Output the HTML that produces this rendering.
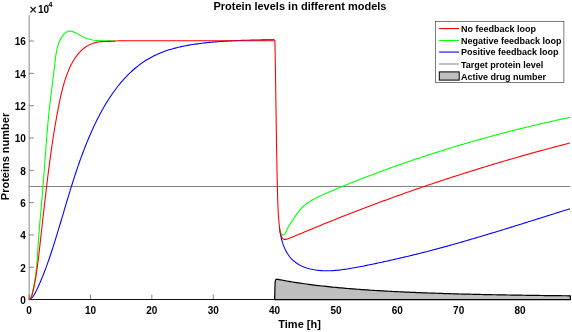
<!DOCTYPE html><html><head><meta charset="utf-8"><title>Protein levels in different models</title><style>html,body{margin:0;padding:0;background:#fff}svg{display:block}</style></head><body><svg width="572" height="332" viewBox="0 0 572 332">
<rect width="572" height="332" fill="#fff"/>
<g stroke="#262626" stroke-width="1" stroke-opacity="0.55" fill="none">
<path d="M29.15 15V299.60"/>
<path d="M29.15 299.60v-5"/>
<path d="M90.51 299.60v-5"/>
<path d="M151.87 299.60v-5"/>
<path d="M213.23 299.60v-5"/>
<path d="M274.59 299.60v-5"/>
<path d="M335.95 299.60v-5"/>
<path d="M397.31 299.60v-5"/>
<path d="M458.67 299.60v-5"/>
<path d="M520.03 299.60v-5"/>
<path d="M29.15 299.60h4.8"/>
<path d="M29.15 267.28h4.8"/>
<path d="M29.15 234.96h4.8"/>
<path d="M29.15 202.64h4.8"/>
<path d="M29.15 170.32h4.8"/>
<path d="M29.15 138.00h4.8"/>
<path d="M29.15 105.68h4.8"/>
<path d="M29.15 73.36h4.8"/>
<path d="M29.15 41.04h4.8"/>
</g>
<path d="M28.65 299.50H570.35" stroke="#111" stroke-width="1" fill="none"/>
<path d="M29.15 186.48H570.35" stroke="#808080" stroke-width="1" fill="none"/>
<path d="M274.75 299.60L274.90 288.00L275.20 281.60L275.60 280.00L276.10 279.30L276.86 279.15L278.83 279.54L280.80 279.91L282.77 280.28L284.74 280.64L286.71 280.98L288.68 281.32L290.65 281.65L292.62 281.98L294.59 282.29L296.56 282.60L298.53 282.90L300.50 283.19L302.47 283.48L304.44 283.76L306.41 284.03L308.38 284.29L310.35 284.55L312.31 284.81L314.28 285.05L316.25 285.30L318.22 285.53L320.19 285.76L322.16 285.99L324.13 286.21L326.10 286.42L328.07 286.63L330.04 286.84L332.01 287.04L333.98 287.23L335.95 287.42L337.92 287.61L339.89 287.79L341.86 287.97L343.83 288.15L345.80 288.32L347.77 288.48L349.74 288.65L351.71 288.81L353.68 288.96L355.65 289.12L357.62 289.27L359.59 289.41L361.56 289.56L363.53 289.70L365.50 289.83L367.47 289.97L369.44 290.10L371.41 290.23L373.38 290.35L375.35 290.48L377.31 290.60L379.28 290.72L381.25 290.83L383.22 290.94L385.19 291.06L387.16 291.16L389.13 291.27L391.10 291.37L393.07 291.48L395.04 291.58L397.01 291.67L398.98 291.77L400.95 291.87L402.92 291.96L404.89 292.05L406.86 292.14L408.83 292.22L410.80 292.31L412.77 292.39L414.74 292.47L416.71 292.55L418.68 292.63L420.65 292.71L422.62 292.78L424.59 292.86L426.56 292.93L428.53 293.00L430.50 293.07L432.47 293.14L434.44 293.21L436.41 293.27L438.38 293.34L440.35 293.40L442.31 293.47L444.28 293.53L446.25 293.59L448.22 293.65L450.19 293.70L452.16 293.76L454.13 293.82L456.10 293.87L458.07 293.92L460.04 293.98L462.01 294.03L463.98 294.08L465.95 294.13L467.92 294.18L469.89 294.22L471.86 294.27L473.83 294.32L475.80 294.36L477.77 294.41L479.74 294.45L481.71 294.49L483.68 294.54L485.65 294.58L487.62 294.62L489.59 294.66L491.56 294.70L493.53 294.74L495.50 294.77L497.47 294.81L499.44 294.85L501.41 294.88L503.38 294.92L505.35 294.95L507.31 294.99L509.28 295.02L511.25 295.05L513.22 295.09L515.19 295.12L517.16 295.15L519.13 295.18L521.10 295.21L523.07 295.24L525.04 295.27L527.01 295.30L528.98 295.32L530.95 295.35L532.92 295.38L534.89 295.41L536.86 295.43L538.83 295.46L540.80 295.48L542.77 295.51L544.74 295.53L546.71 295.55L548.68 295.58L550.65 295.60L552.62 295.62L554.59 295.65L556.56 295.67L558.53 295.69L560.50 295.71L562.47 295.73L564.44 295.75L566.41 295.77L568.38 295.79L570.35 295.81L570.35 299.60Z" fill="#bfbfbf" stroke="#000" stroke-width="1.2" stroke-linejoin="round"/>
<path d="M29.15 299.60L30.50 298.82L31.68 297.88L32.71 296.80L33.62 295.61L34.44 294.34L35.19 292.99L35.89 291.61L36.57 290.21L37.24 288.80L37.90 287.39L38.55 285.97L39.19 284.54L39.82 283.11L40.44 281.68L41.06 280.24L41.66 278.79L42.26 277.35L42.84 275.89L43.42 274.44L44.00 272.98L44.56 271.51L45.12 270.05L45.67 268.58L46.22 267.10L46.75 265.63L47.29 264.15L47.81 262.67L48.33 261.19L48.85 259.70L49.36 258.22L49.86 256.73L50.36 255.25L50.86 253.76L51.35 252.27L51.84 250.78L52.32 249.29L52.80 247.80L53.28 246.31L53.75 244.82L54.23 243.33L54.69 241.84L55.16 240.36L55.62 238.87L56.08 237.38L56.54 235.89L57.00 234.40L57.45 232.91L57.90 231.42L58.35 229.94L58.80 228.45L59.25 226.96L59.70 225.47L60.14 223.99L60.58 222.50L61.03 221.01L61.47 219.53L61.91 218.04L62.35 216.56L62.79 215.07L63.23 213.59L63.67 212.10L64.11 210.62L64.55 209.14L64.99 207.65L65.43 206.17L65.87 204.69L66.31 203.21L66.75 201.73L67.20 200.25L67.64 198.77L68.08 197.29L68.53 195.81L68.98 194.33L69.43 192.85L69.88 191.38L70.33 189.90L70.79 188.42L71.25 186.95L71.71 185.47L72.17 184.00L72.63 182.53L73.10 181.06L73.57 179.58L74.04 178.11L74.52 176.64L75.00 175.17L75.48 173.71L75.97 172.24L76.46 170.77L76.95 169.31L77.45 167.84L77.95 166.38L78.46 164.91L78.97 163.45L79.48 161.99L80.00 160.53L80.52 159.07L81.05 157.61L81.58 156.15L82.12 154.70L82.67 153.24L83.22 151.79L83.77 150.33L84.33 148.88L84.90 147.43L85.47 145.98L86.05 144.53L86.63 143.08L87.22 141.64L87.82 140.19L88.42 138.75L89.03 137.30L89.65 135.86L90.28 134.42L90.91 132.98L91.55 131.54L92.19 130.11L92.85 128.67L93.51 127.24L94.18 125.81L94.85 124.38L95.54 122.95L96.23 121.53L96.93 120.11L97.64 118.70L98.36 117.29L99.09 115.88L99.82 114.48L100.57 113.08L101.32 111.69L102.08 110.31L102.85 108.93L103.64 107.56L104.43 106.20L105.23 104.84L106.04 103.49L106.86 102.14L107.69 100.81L108.53 99.48L109.38 98.17L110.24 96.86L111.11 95.56L111.99 94.27L112.88 92.99L113.78 91.72L114.70 90.46L115.62 89.21L116.56 87.98L117.51 86.75L118.46 85.54L119.44 84.34L120.42 83.15L121.41 81.97L122.42 80.81L123.44 79.66L124.47 78.53L125.51 77.41L126.56 76.30L127.63 75.21L128.71 74.13L129.80 73.07L130.91 72.03L132.03 71.00L133.16 69.98L134.30 68.99L135.46 68.01L136.64 67.04L137.82 66.10L139.02 65.17L140.23 64.26L141.46 63.37L142.70 62.50L143.96 61.65L145.23 60.82L146.51 60.01L147.81 59.21L149.13 58.44L150.46 57.69L151.80 56.96L153.16 56.25L154.53 55.56L155.92 54.90L157.33 54.26L158.75 53.64L160.18 53.04L161.63 52.46L163.09 51.90L164.56 51.36L166.04 50.84L167.54 50.34L169.04 49.86L170.56 49.40L172.08 48.96L173.62 48.53L175.16 48.12L176.70 47.72L178.26 47.34L179.82 46.98L181.39 46.63L182.96 46.30L184.53 45.98L186.11 45.67L187.69 45.38L189.28 45.10L190.86 44.83L192.45 44.58L194.03 44.33L195.62 44.10L197.21 43.88L198.79 43.66L200.37 43.46L201.95 43.26L203.53 43.08L205.10 42.90L206.67 42.73L208.23 42.57L209.78 42.41L211.33 42.26L212.88 42.12L214.42 41.98L215.96 41.85L217.49 41.73L219.02 41.61L220.55 41.49L222.07 41.38L223.59 41.28L225.11 41.18L226.63 41.09L228.14 41.00L229.66 40.92L231.17 40.84L232.68 40.77L234.20 40.70L235.71 40.63L237.22 40.56L238.74 40.51L240.25 40.45L241.77 40.40L243.29 40.35L244.81 40.30L246.33 40.25L247.86 40.21L249.39 40.17L250.92 40.13L252.46 40.10L254.00 40.06L255.55 40.03L257.10 40.00L258.66 39.97L260.22 39.94L261.79 39.91L263.36 39.88L264.95 39.86L266.54 39.83L268.13 39.81L269.74 39.78L271.35 39.75L272.97 39.73L274.60 39.70M279.48 227.83L279.66 229.24L279.86 230.65L280.08 232.06L280.33 233.46L280.59 234.86L280.88 236.26L281.19 237.66L281.52 239.05L281.89 240.44L282.28 241.82L282.71 243.20L283.17 244.56L283.66 245.91L284.20 247.24L284.77 248.55L285.38 249.85L286.03 251.12L286.73 252.36L287.46 253.57L288.25 254.75L289.08 255.89L289.95 256.99L290.86 258.06L291.82 259.08L292.81 260.07L293.84 261.01L294.92 261.90L296.03 262.74L297.18 263.54L298.36 264.28L299.58 264.97L300.82 265.62L302.10 266.22L303.40 266.77L304.72 267.28L306.06 267.75L307.41 268.18L308.78 268.58L310.16 268.93L311.55 269.25L312.94 269.54L314.34 269.79L315.75 270.02L317.16 270.21L318.57 270.37L319.99 270.50L321.42 270.61L322.84 270.69L324.27 270.74L325.71 270.77L327.14 270.78L328.58 270.76L330.02 270.72L331.46 270.67L332.90 270.59L334.34 270.49L335.78 270.38L337.22 270.25L338.66 270.10L340.10 269.94L341.54 269.77L342.97 269.58L344.40 269.38L345.83 269.17L347.25 268.96L348.68 268.73L350.09 268.50L351.50 268.26L352.91 268.01L354.31 267.76L355.71 267.51L357.10 267.25L358.49 266.99L359.87 266.72L361.26 266.46L362.64 266.19L364.02 265.91L365.40 265.64L366.77 265.36L368.15 265.08L369.53 264.79L370.91 264.51L372.30 264.22L373.68 263.93L375.07 263.64L376.45 263.35L377.84 263.06L379.23 262.77L380.62 262.47L382.01 262.17L383.40 261.87L384.79 261.57L386.18 261.26L387.57 260.96L388.97 260.65L390.36 260.34L391.75 260.03L393.15 259.72L394.54 259.40L395.93 259.09L397.33 258.77L398.72 258.45L400.11 258.13L401.51 257.80L402.90 257.48L404.29 257.15L405.68 256.82L407.07 256.49L408.46 256.15L409.85 255.82L411.24 255.48L412.63 255.14L414.01 254.80L415.40 254.46L416.79 254.11L418.17 253.77L419.56 253.42L420.94 253.07L422.33 252.72L423.71 252.36L425.09 252.01L426.47 251.65L427.86 251.29L429.24 250.93L430.62 250.57L432.00 250.21L433.38 249.85L434.76 249.48L436.13 249.11L437.51 248.74L438.89 248.37L440.27 248.00L441.64 247.63L443.02 247.25L444.40 246.88L445.77 246.50L447.15 246.12L448.52 245.74L449.89 245.36L451.27 244.98L452.64 244.59L454.01 244.21L455.39 243.82L456.76 243.43L458.13 243.04L459.50 242.65L460.87 242.26L462.24 241.87L463.61 241.48L464.98 241.08L466.35 240.68L467.72 240.29L469.09 239.89L470.46 239.49L471.83 239.09L473.19 238.69L474.56 238.29L475.93 237.88L477.29 237.48L478.66 237.07L480.03 236.67L481.39 236.26L482.76 235.85L484.12 235.45L485.49 235.04L486.85 234.63L488.22 234.21L489.58 233.80L490.95 233.39L492.31 232.98L493.68 232.56L495.04 232.15L496.40 231.73L497.77 231.32L499.13 230.90L500.49 230.48L501.85 230.06L503.22 229.65L504.58 229.23L505.94 228.81L507.30 228.39L508.66 227.97L510.03 227.54L511.39 227.12L512.75 226.70L514.11 226.28L515.47 225.85L516.83 225.43L518.19 225.01L519.55 224.58L520.91 224.16L522.27 223.73L523.64 223.31L525.00 222.88L526.36 222.46L527.72 222.03L529.08 221.60L530.44 221.18L531.80 220.75L533.16 220.32L534.52 219.90L535.88 219.47L537.24 219.04L538.60 218.62L539.96 218.19L541.32 217.76L542.68 217.33L544.04 216.91L545.40 216.48L546.76 216.05L548.12 215.62L549.48 215.20L550.84 214.77L552.20 214.34L553.56 213.91L554.92 213.49L556.29 213.06L557.65 212.63L559.01 212.21L560.37 211.78L561.73 211.35L563.09 210.93L564.45 210.50L565.81 210.07L567.18 209.65L568.54 209.22L569.90 208.80" fill="none" stroke="#0000ff" stroke-width="1.08" stroke-linejoin="miter" stroke-miterlimit="3"/>
<path d="M29.15 299.60L30.06 298.76L30.74 297.78L31.25 296.68L31.64 295.50L31.96 294.28L32.24 293.05L32.53 291.82L32.80 290.59L33.07 289.36L33.33 288.13L33.58 286.90L33.82 285.67L34.06 284.45L34.29 283.22L34.51 281.99L34.72 280.76L34.92 279.54L35.12 278.31L35.30 277.08L35.48 275.84L35.65 274.61L35.81 273.37L35.96 272.14L36.11 270.90L36.24 269.66L36.38 268.42L36.50 267.18L36.62 265.94L36.73 264.69L36.84 263.45L36.95 262.20L37.05 260.95L37.14 259.71L37.24 258.46L37.33 257.21L37.41 255.96L37.50 254.71L37.58 253.47L37.67 252.22L37.75 250.97L37.83 249.72L37.91 248.47L37.99 247.22L38.07 245.97L38.16 244.72L38.24 243.47L38.33 242.22L38.42 240.98L38.51 239.73L38.60 238.48L38.70 237.24L38.79 235.99L38.89 234.74L38.98 233.50L39.08 232.25L39.18 231.01L39.28 229.76L39.38 228.52L39.48 227.27L39.59 226.03L39.69 224.78L39.79 223.54L39.90 222.30L40.00 221.05L40.11 219.81L40.22 218.56L40.33 217.32L40.43 216.08L40.54 214.83L40.65 213.59L40.76 212.35L40.87 211.10L40.98 209.86L41.09 208.62L41.19 207.38L41.30 206.13L41.41 204.89L41.52 203.65L41.63 202.40L41.74 201.16L41.85 199.92L41.96 198.67L42.06 197.43L42.17 196.19L42.28 194.94L42.38 193.70L42.49 192.45L42.59 191.21L42.70 189.97L42.80 188.72L42.90 187.48L43.00 186.23L43.11 184.99L43.21 183.74L43.30 182.50L43.40 181.25L43.50 180.00L43.60 178.76L43.69 177.51L43.79 176.26L43.88 175.02L43.98 173.77L44.07 172.52L44.17 171.28L44.26 170.03L44.35 168.78L44.44 167.54L44.54 166.29L44.63 165.04L44.72 163.79L44.81 162.55L44.91 161.30L45.00 160.05L45.09 158.80L45.18 157.56L45.27 156.31L45.37 155.06L45.46 153.81L45.55 152.57L45.65 151.32L45.74 150.07L45.83 148.82L45.93 147.58L46.02 146.33L46.12 145.08L46.22 143.84L46.31 142.59L46.41 141.34L46.51 140.10L46.61 138.85L46.71 137.60L46.81 136.36L46.91 135.11L47.01 133.87L47.12 132.62L47.22 131.37L47.33 130.13L47.43 128.88L47.54 127.64L47.65 126.39L47.76 125.15L47.88 123.91L47.99 122.66L48.10 121.42L48.22 120.18L48.34 118.93L48.46 117.69L48.58 116.45L48.70 115.21L48.83 113.96L48.95 112.72L49.08 111.48L49.21 110.24L49.35 109.00L49.48 107.76L49.62 106.52L49.75 105.28L49.89 104.04L50.04 102.80L50.18 101.57L50.33 100.33L50.47 99.09L50.62 97.85L50.77 96.62L50.92 95.38L51.08 94.14L51.23 92.91L51.39 91.67L51.54 90.43L51.70 89.20L51.85 87.96L52.01 86.72L52.17 85.48L52.33 84.25L52.49 83.01L52.64 81.77L52.80 80.53L52.96 79.29L53.11 78.05L53.27 76.81L53.43 75.57L53.58 74.33L53.74 73.09L53.89 71.85L54.04 70.60L54.19 69.36L54.34 68.12L54.49 66.87L54.63 65.62L54.78 64.38L54.92 63.13L55.06 61.88L55.20 60.63L55.35 59.38L55.50 58.13L55.66 56.89L55.83 55.64L56.01 54.40L56.21 53.17L56.43 51.93L56.67 50.71L56.94 49.49L57.22 48.27L57.54 47.06L57.89 45.86L58.27 44.67L58.69 43.49L59.14 42.32L59.64 41.16L60.18 40.01L60.77 38.87L61.40 37.75L62.08 36.65L62.81 35.60L63.58 34.62L64.40 33.72L65.26 32.93L66.17 32.25L67.12 31.71L68.11 31.33L69.14 31.12L70.20 31.10L71.31 31.25L72.44 31.54L73.60 31.96L74.78 32.47L75.97 33.07L77.18 33.71L78.40 34.39L79.62 35.07L80.85 35.74L82.06 36.37L83.27 36.95L84.47 37.48L85.67 37.96L86.86 38.40L88.05 38.79L89.23 39.14L90.41 39.45L91.59 39.72L92.77 39.96L93.95 40.17L95.13 40.34L96.32 40.49L97.51 40.61L98.70 40.71L99.90 40.78L101.10 40.84L102.31 40.88L103.53 40.90L104.75 40.91L105.99 40.91L107.24 40.90L108.50 40.89L109.77 40.87L111.05 40.85L112.35 40.83L113.67 40.81L115.00 40.80M280.03 229.66L280.41 231.04L280.85 232.42L281.34 233.76L281.95 234.83L282.77 235.25L283.80 234.84L284.86 233.82L285.75 232.46L286.42 230.96L287.02 229.48L287.65 228.13L288.33 226.87L289.03 225.69L289.77 224.55L290.52 223.42L291.28 222.28L292.04 221.11L292.82 219.93L293.61 218.74L294.41 217.53L295.22 216.33L296.06 215.13L296.91 213.93L297.78 212.75L298.68 211.59L299.59 210.46L300.54 209.35L301.51 208.28L302.52 207.25L303.55 206.26L304.62 205.32L305.71 204.42L306.83 203.55L307.98 202.72L309.14 201.92L310.33 201.16L311.54 200.42L312.77 199.71L314.01 199.03L315.27 198.36L316.54 197.72L317.82 197.09L319.12 196.47L320.41 195.87L321.72 195.28L323.03 194.70L324.34 194.12L325.66 193.54L326.97 192.96L328.28 192.39L329.60 191.82L330.92 191.26L332.23 190.69L333.55 190.13L334.87 189.57L336.19 189.01L337.51 188.46L338.83 187.90L340.16 187.35L341.48 186.80L342.80 186.26L344.13 185.71L345.45 185.17L346.78 184.63L348.11 184.09L349.43 183.56L350.76 183.02L352.09 182.49L353.42 181.96L354.75 181.43L356.08 180.90L357.41 180.38L358.74 179.85L360.08 179.33L361.41 178.81L362.74 178.29L364.08 177.78L365.41 177.26L366.75 176.75L368.08 176.23L369.42 175.72L370.76 175.22L372.10 174.71L373.44 174.20L374.78 173.70L376.12 173.19L377.46 172.69L378.80 172.19L380.14 171.70L381.48 171.20L382.82 170.70L384.17 170.21L385.51 169.72L386.86 169.23L388.20 168.74L389.55 168.25L390.89 167.77L392.24 167.29L393.59 166.80L394.94 166.32L396.29 165.84L397.63 165.37L398.98 164.89L400.34 164.41L401.69 163.94L403.04 163.47L404.39 163.00L405.74 162.53L407.10 162.07L408.45 161.60L409.80 161.14L411.16 160.67L412.51 160.21L413.87 159.75L415.22 159.30L416.58 158.84L417.94 158.39L419.30 157.93L420.66 157.48L422.01 157.03L423.37 156.58L424.73 156.14L426.09 155.69L427.45 155.25L428.82 154.81L430.18 154.37L431.54 153.93L432.90 153.49L434.27 153.05L435.63 152.62L437.00 152.18L438.36 151.75L439.73 151.32L441.09 150.89L442.46 150.47L443.82 150.04L445.19 149.62L446.56 149.19L447.93 148.77L449.30 148.35L450.67 147.93L452.04 147.52L453.41 147.10L454.78 146.69L456.15 146.28L457.52 145.87L458.89 145.46L460.26 145.05L461.64 144.64L463.01 144.24L464.38 143.83L465.76 143.43L467.13 143.03L468.51 142.63L469.88 142.23L471.26 141.84L472.63 141.44L474.01 141.05L475.39 140.66L476.77 140.27L478.14 139.88L479.52 139.49L480.90 139.11L482.28 138.72L483.66 138.34L485.04 137.96L486.42 137.58L487.80 137.20L489.18 136.82L490.56 136.44L491.95 136.07L493.33 135.70L494.71 135.33L496.10 134.96L497.48 134.59L498.86 134.22L500.25 133.85L501.63 133.49L503.02 133.13L504.40 132.77L505.79 132.41L507.17 132.05L508.56 131.69L509.95 131.33L511.34 130.98L512.72 130.63L514.11 130.27L515.50 129.92L516.89 129.58L518.28 129.23L519.67 128.88L521.06 128.54L522.45 128.20L523.84 127.85L525.23 127.51L526.62 127.17L528.01 126.84L529.40 126.50L530.80 126.17L532.19 125.83L533.58 125.50L534.97 125.17L536.37 124.84L537.76 124.51L539.16 124.19L540.55 123.86L541.94 123.54L543.34 123.21L544.73 122.89L546.13 122.57L547.53 122.26L548.92 121.94L550.32 121.62L551.72 121.31L553.11 121.00L554.51 120.69L555.91 120.38L557.31 120.07L558.70 119.76L560.10 119.45L561.50 119.15L562.90 118.85L564.30 118.54L565.70 118.24L567.10 117.94L568.50 117.65L569.90 117.35" fill="none" stroke="#00ff00" stroke-width="1.08" stroke-linejoin="miter" stroke-miterlimit="3"/>
<path d="M29.15 299.60L30.05 298.90L30.75 298.06L31.30 297.10L31.73 296.06L32.07 294.97L32.37 293.84L32.65 292.72L32.93 291.59L33.19 290.47L33.45 289.34L33.70 288.22L33.94 287.10L34.17 285.97L34.40 284.85L34.62 283.73L34.83 282.61L35.04 281.48L35.24 280.36L35.43 279.24L35.63 278.12L35.81 276.99L35.99 275.87L36.17 274.74L36.35 273.61L36.52 272.48L36.69 271.35L36.85 270.22L37.01 269.09L37.17 267.96L37.33 266.82L37.48 265.69L37.63 264.56L37.78 263.42L37.92 262.28L38.07 261.15L38.21 260.01L38.35 258.87L38.48 257.74L38.62 256.60L38.75 255.46L38.89 254.32L39.02 253.18L39.15 252.04L39.28 250.90L39.41 249.76L39.54 248.62L39.66 247.48L39.79 246.34L39.92 245.21L40.04 244.07L40.17 242.93L40.30 241.79L40.42 240.65L40.55 239.51L40.68 238.37L40.80 237.23L40.93 236.10L41.06 234.96L41.18 233.82L41.31 232.68L41.44 231.54L41.56 230.41L41.69 229.27L41.82 228.13L41.94 226.99L42.07 225.86L42.20 224.72L42.32 223.58L42.45 222.45L42.58 221.31L42.70 220.17L42.83 219.04L42.96 217.90L43.09 216.76L43.22 215.63L43.34 214.49L43.47 213.35L43.60 212.22L43.73 211.08L43.86 209.94L43.99 208.81L44.12 207.67L44.25 206.53L44.38 205.40L44.51 204.26L44.64 203.13L44.77 201.99L44.90 200.85L45.03 199.72L45.16 198.58L45.30 197.45L45.43 196.31L45.56 195.17L45.69 194.04L45.83 192.90L45.96 191.77L46.10 190.63L46.23 189.49L46.37 188.36L46.50 187.22L46.64 186.08L46.78 184.95L46.91 183.81L47.05 182.68L47.19 181.54L47.33 180.40L47.47 179.27L47.61 178.13L47.75 176.99L47.89 175.86L48.03 174.72L48.17 173.59L48.32 172.45L48.46 171.31L48.61 170.18L48.75 169.04L48.90 167.90L49.05 166.77L49.19 165.63L49.34 164.50L49.49 163.36L49.64 162.23L49.79 161.09L49.95 159.96L50.10 158.82L50.25 157.69L50.41 156.55L50.57 155.42L50.72 154.28L50.88 153.15L51.04 152.01L51.20 150.88L51.36 149.74L51.53 148.61L51.69 147.48L51.85 146.34L52.02 145.21L52.19 144.08L52.36 142.94L52.53 141.81L52.70 140.68L52.87 139.55L53.04 138.42L53.22 137.28L53.40 136.15L53.57 135.02L53.75 133.89L53.93 132.76L54.12 131.63L54.30 130.50L54.48 129.37L54.67 128.24L54.86 127.11L55.05 125.98L55.24 124.85L55.43 123.73L55.63 122.60L55.82 121.47L56.02 120.34L56.22 119.22L56.42 118.09L56.62 116.96L56.83 115.84L57.04 114.71L57.24 113.59L57.45 112.46L57.66 111.34L57.88 110.22L58.09 109.09L58.31 107.97L58.53 106.85L58.75 105.72L58.97 104.60L59.20 103.48L59.43 102.36L59.66 101.24L59.89 100.12L60.12 99.00L60.36 97.89L60.61 96.77L60.86 95.65L61.11 94.54L61.37 93.43L61.63 92.32L61.90 91.21L62.17 90.10L62.46 88.99L62.74 87.89L63.04 86.78L63.34 85.68L63.65 84.58L63.97 83.48L64.29 82.39L64.63 81.30L64.97 80.21L65.32 79.12L65.69 78.03L66.06 76.95L66.44 75.87L66.83 74.79L67.24 73.72L67.65 72.65L68.08 71.58L68.52 70.51L68.97 69.45L69.43 68.40L69.91 67.34L70.40 66.30L70.91 65.26L71.43 64.23L71.97 63.21L72.52 62.20L73.09 61.20L73.68 60.21L74.28 59.24L74.91 58.28L75.55 57.34L76.21 56.41L76.90 55.50L77.60 54.60L78.33 53.72L79.08 52.87L79.85 52.03L80.64 51.22L81.46 50.43L82.30 49.66L83.16 48.92L84.05 48.21L84.96 47.52L85.88 46.87L86.83 46.25L87.80 45.66L88.79 45.11L89.79 44.59L90.82 44.12L91.86 43.68L92.93 43.29L94.00 42.94L95.10 42.63L96.21 42.37L97.34 42.15L98.47 41.97L99.62 41.82L100.78 41.70L101.94 41.61L103.11 41.54L104.28 41.49L105.46 41.45L106.63 41.42L107.80 41.39L108.97 41.37L110.14 41.35L111.30 41.32L112.45 41.28L113.58 41.22L114.71 41.15L115.82 41.06L116.92 40.95L118.00 40.80L274.60 40.80L274.90 40.80L274.93 42.20L274.95 43.60L274.98 45.00L275.01 46.40L275.03 47.80L275.06 49.20L275.08 50.60L275.11 52.00L275.13 53.40L275.16 54.80L275.18 56.20L275.21 57.60L275.23 59.00L275.26 60.40L275.28 61.80L275.30 63.20L275.33 64.60L275.35 66.00L275.37 67.40L275.39 68.79L275.42 70.19L275.44 71.59L275.46 72.99L275.48 74.39L275.51 75.79L275.53 77.19L275.55 78.59L275.57 79.98L275.59 81.38L275.61 82.78L275.63 84.18L275.65 85.58L275.68 86.98L275.70 88.38L275.72 89.77L275.74 91.17L275.76 92.57L275.78 93.97L275.80 95.37L275.82 96.77L275.84 98.16L275.86 99.56L275.88 100.96L275.90 102.36L275.92 103.76L275.94 105.16L275.96 106.55L275.98 107.95L276.00 109.35L276.02 110.75L276.05 112.15L276.07 113.54L276.09 114.94L276.11 116.34L276.13 117.74L276.15 119.14L276.17 120.54L276.19 121.93L276.21 123.33L276.23 124.73L276.25 126.13L276.28 127.53L276.30 128.93L276.32 130.32L276.34 131.72L276.36 133.12L276.38 134.52L276.41 135.92L276.43 137.32L276.45 138.72L276.47 140.11L276.50 141.51L276.52 142.91L276.54 144.31L276.57 145.71L276.59 147.11L276.61 148.51L276.64 149.91L276.66 151.30L276.69 152.70L276.71 154.10L276.74 155.50L276.76 156.90L276.79 158.30L276.81 159.70L276.84 161.10L276.87 162.50L276.89 163.90L276.92 165.30L276.95 166.70L276.97 168.10L277.00 169.50L277.03 170.90L277.06 172.30L277.09 173.70L277.12 175.10L277.15 176.50L277.18 177.90L277.21 179.30L277.24 180.70L277.27 182.10L277.30 183.50L277.33 184.90L277.36 186.30L277.40 187.71L277.43 189.11L277.46 190.51L277.50 191.91L277.53 193.31L277.57 194.71L277.60 196.11L277.64 197.52L277.68 198.92L277.72 200.32L277.77 201.72L277.81 203.12L277.86 204.51L277.92 205.91L277.98 207.31L278.04 208.70L278.11 210.10L278.18 211.49L278.26 212.88L278.35 214.27L278.44 215.65L278.54 217.04L278.65 218.42L278.76 219.80L278.89 221.18L279.02 222.55L279.15 223.93L279.30 225.31L279.44 226.70L279.60 228.09L279.76 229.50L279.95 230.92L280.20 232.35L280.53 233.82L280.97 235.31L281.54 236.74L282.25 237.99L283.11 238.91L284.14 239.38L285.32 239.40L286.60 239.11L287.92 238.66L289.25 238.17L290.57 237.68L291.88 237.17L293.19 236.66L294.50 236.15L295.80 235.62L297.10 235.09L298.39 234.56L299.69 234.03L300.98 233.49L302.27 232.95L303.56 232.41L304.85 231.86L306.14 231.32L307.42 230.78L308.71 230.24L310.00 229.70L311.29 229.16L312.59 228.63L313.88 228.09L315.17 227.56L316.46 227.02L317.75 226.49L319.05 225.96L320.34 225.43L321.63 224.90L322.93 224.37L324.22 223.84L325.52 223.31L326.81 222.79L328.11 222.26L329.41 221.74L330.70 221.21L332.00 220.69L333.30 220.17L334.60 219.65L335.90 219.13L337.20 218.61L338.50 218.10L339.80 217.58L341.10 217.06L342.40 216.55L343.70 216.04L345.00 215.52L346.30 215.01L347.61 214.50L348.91 213.99L350.21 213.49L351.52 212.98L352.82 212.47L354.13 211.97L355.43 211.46L356.74 210.96L358.04 210.46L359.35 209.96L360.66 209.46L361.96 208.96L363.27 208.46L364.58 207.96L365.89 207.47L367.19 206.97L368.50 206.48L369.81 205.98L371.12 205.49L372.43 205.00L373.74 204.51L375.05 204.02L376.37 203.53L377.68 203.04L378.99 202.56L380.30 202.07L381.61 201.59L382.93 201.10L384.24 200.62L385.55 200.14L386.87 199.66L388.18 199.18L389.50 198.70L390.81 198.22L392.13 197.75L393.45 197.27L394.76 196.80L396.08 196.32L397.40 195.85L398.71 195.38L400.03 194.91L401.35 194.44L402.67 193.97L403.99 193.50L405.31 193.04L406.62 192.57L407.94 192.11L409.26 191.64L410.59 191.18L411.91 190.72L413.23 190.26L414.55 189.80L415.87 189.34L417.19 188.88L418.52 188.42L419.84 187.97L421.16 187.51L422.48 187.06L423.81 186.60L425.13 186.15L426.46 185.70L427.78 185.25L429.11 184.80L430.43 184.35L431.76 183.91L433.08 183.46L434.41 183.02L435.74 182.57L437.06 182.13L438.39 181.69L439.72 181.24L441.04 180.80L442.37 180.36L443.70 179.93L445.03 179.49L446.36 179.05L447.69 178.62L449.02 178.18L450.35 177.75L451.68 177.32L453.01 176.88L454.34 176.45L455.67 176.02L457.00 175.59L458.33 175.17L459.67 174.74L461.00 174.31L462.33 173.89L463.66 173.46L465.00 173.04L466.33 172.62L467.66 172.20L469.00 171.78L470.33 171.36L471.67 170.94L473.00 170.52L474.34 170.11L475.67 169.69L477.01 169.28L478.35 168.86L479.68 168.45L481.02 168.04L482.36 167.63L483.69 167.22L485.03 166.81L486.37 166.41L487.71 166.00L489.05 165.59L490.39 165.19L491.73 164.78L493.06 164.38L494.40 163.98L495.74 163.58L497.09 163.18L498.43 162.78L499.77 162.38L501.11 161.98L502.45 161.59L503.79 161.19L505.13 160.80L506.48 160.41L507.82 160.01L509.16 159.62L510.51 159.23L511.85 158.84L513.19 158.45L514.54 158.07L515.88 157.68L517.23 157.30L518.57 156.91L519.92 156.53L521.26 156.14L522.61 155.76L523.96 155.38L525.30 155.00L526.65 154.62L528.00 154.25L529.34 153.87L530.69 153.49L532.04 153.12L533.39 152.74L534.74 152.37L536.09 152.00L537.43 151.63L538.78 151.26L540.13 150.89L541.48 150.52L542.83 150.15L544.19 149.78L545.54 149.42L546.89 149.05L548.24 148.69L549.59 148.33L550.94 147.97L552.29 147.60L553.65 147.25L555.00 146.89L556.35 146.53L557.71 146.17L559.06 145.81L560.41 145.46L561.77 145.11L563.12 144.75L564.48 144.40L565.83 144.05L567.19 143.70L568.54 143.35L569.90 143.00" fill="none" stroke="#ff0000" stroke-width="1.08" stroke-linejoin="miter" stroke-miterlimit="3"/>
<g font-family="'Liberation Sans', Arial, Helvetica, sans-serif" font-weight="bold" fill="#000">
<text x="300" y="10.1" font-size="11" text-anchor="middle">Protein levels in different models</text>
<text x="299.6" y="327.6" font-size="11" text-anchor="middle">Time [h]</text>
<text transform="translate(9.4 156.5) rotate(-90)" font-size="11" text-anchor="middle">Proteins number</text>
<g font-size="10" fill="#000">
<text x="29.15" y="314.0" text-anchor="middle">0</text>
<text x="90.51" y="314.0" text-anchor="middle">10</text>
<text x="151.87" y="314.0" text-anchor="middle">20</text>
<text x="213.23" y="314.0" text-anchor="middle">30</text>
<text x="274.59" y="314.0" text-anchor="middle">40</text>
<text x="335.95" y="314.0" text-anchor="middle">50</text>
<text x="397.31" y="314.0" text-anchor="middle">60</text>
<text x="458.67" y="314.0" text-anchor="middle">70</text>
<text x="520.03" y="314.0" text-anchor="middle">80</text>
<text x="25.8" y="303.90" text-anchor="end">0</text>
<text x="25.8" y="271.58" text-anchor="end">2</text>
<text x="25.8" y="239.26" text-anchor="end">4</text>
<text x="25.8" y="206.94" text-anchor="end">6</text>
<text x="25.8" y="174.62" text-anchor="end">8</text>
<text x="25.8" y="142.30" text-anchor="end">10</text>
<text x="25.8" y="109.98" text-anchor="end">12</text>
<text x="25.8" y="77.66" text-anchor="end">14</text>
<text x="25.8" y="45.34" text-anchor="end">16</text>
<text x="29.6" y="13.7" font-weight="normal" font-size="12.5" stroke="#000" stroke-width="0.25">×</text><text x="37.9" y="12.6">10</text><text x="48.3" y="6.9" font-size="7.6">4</text>
</g>
<rect x="435.4" y="21.6" width="128.5" height="60.9" fill="#fff" stroke="#262626" stroke-width="0.6"/>
<text x="460.9" y="31.90" font-size="9">No feedback loop</text>
<path d="M439.1 28.55H459.1" stroke="#ff0000" stroke-width="1.1"/>
<text x="460.9" y="43.70" font-size="9">Negative feedback loop</text>
<path d="M439.1 40.45H459.1" stroke="#00ff00" stroke-width="1.1"/>
<text x="460.9" y="55.40" font-size="9">Positive feedback loop</text>
<path d="M439.1 52.05H459.1" stroke="#0000ff" stroke-width="1.1"/>
<text x="460.9" y="67.90" font-size="9">Target protein level</text>
<path d="M439.1 64.00H459.1" stroke="#8c8c8c" stroke-width="1.1"/>
<text x="460.9" y="79.60" font-size="9">Active drug number</text>
<rect x="439.3" y="71.9" width="19.9" height="8.2" fill="#bfbfbf" stroke="#000" stroke-width="1"/>
</g>
</svg></body></html>
